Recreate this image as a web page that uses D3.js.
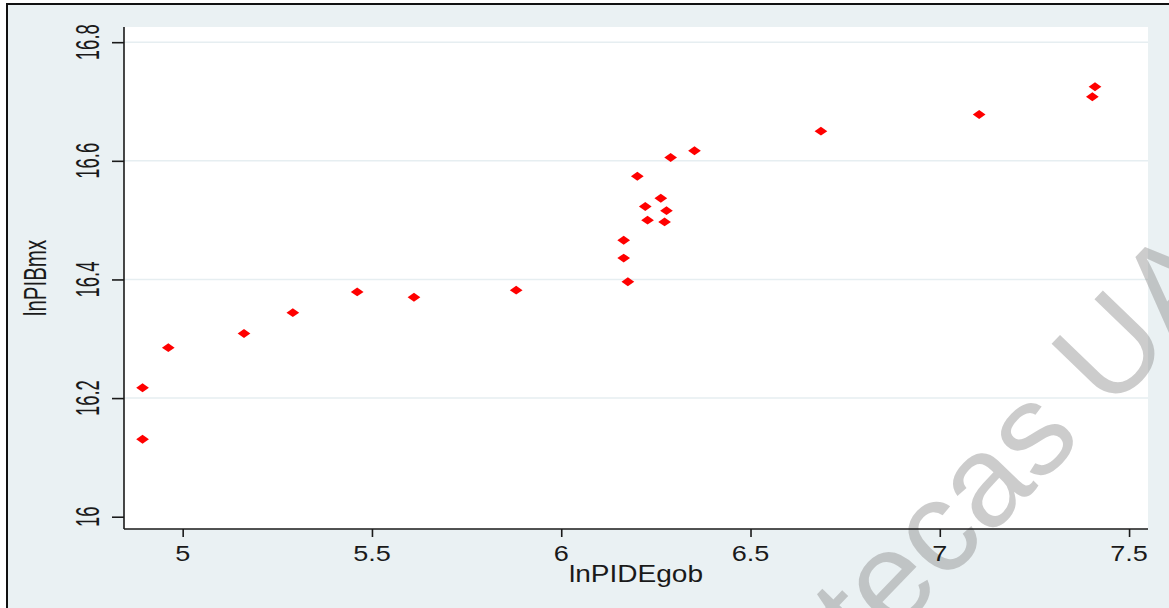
<!DOCTYPE html>
<html>
<head>
<meta charset="utf-8">
<script src="https://cdn.jsdelivr.net/npm/d3@7"></script>
<style>
  html, body { margin: 0; padding: 0; background: #ffffff; }
  svg { display: block; }
  text { font-family: "Liberation Sans", Arial, sans-serif; }
</style>
</head>
<body>
<svg id="chart" width="1169" height="608"></svg>
<script>
// ---- data ----
const lnPIDEgob = [4.894, 4.894, 4.962, 5.162, 5.291, 5.461, 5.611, 5.881,
                   6.165, 6.165, 6.176, 6.201, 6.222, 6.228, 6.263, 6.273, 6.278, 6.289, 6.352,
                   6.686, 7.104, 7.403, 7.410];
const lnPIBmx   = [16.2175, 16.1305, 16.285, 16.309, 16.344, 16.379, 16.370, 16.382,
                   16.466, 16.436, 16.396, 16.574, 16.523, 16.500, 16.537, 16.497, 16.516, 16.6056, 16.617,
                   16.650, 16.678, 16.708, 16.725];
const xTicks = [5, 5.5, 6, 6.5, 7, 7.5];
const xTickLabels = ["5", "5.5", "6", "6.5", "7", "7.5"];
const yTicks = [16, 16.2, 16.4, 16.6, 16.8];
const yTickLabels = ["16", "16.2", "16.4", "16.6", "16.8"];
const yGrid = [16.2, 16.4, 16.6, 16.8];
const xTitle = "lnPIDEgob";
const yTitle = "lnPIBmx";
const watermark = "Bibliotecas UAM";

// ---- layout ----
const W = 1169, H = 608;
const plot = { left: 124, right: 1148, top: 27, bottom: 529 };
const svg = d3.select("#chart");

// background + frame
svg.append("rect").attr("x", 0).attr("y", 0).attr("width", W).attr("height", H).attr("fill", "#ffffff");
svg.append("rect").attr("x", 7).attr("y", 4).attr("width", W + 20).attr("height", H + 20)
   .attr("fill", "#eaf1f3").attr("stroke", "#111").attr("stroke-width", 2);

// plot region
svg.append("rect").attr("x", plot.left).attr("y", plot.top)
   .attr("width", plot.right - plot.left).attr("height", plot.bottom - plot.top)
   .attr("fill", "#ffffff");

const x = d3.scaleLinear().domain([4.845, 7.550]).range([plot.left, plot.right]);
const y = d3.scaleLinear().domain([15.9793, 16.8256]).range([plot.bottom, plot.top]);

// gridlines
svg.append("g").selectAll("line").data(yGrid).join("line")
   .attr("x1", plot.left).attr("x2", plot.right)
   .attr("y1", d => y(d)).attr("y2", d => y(d))
   .attr("stroke", "#e6eef1").attr("stroke-width", 1.5);

// watermark
const wm = svg.append("text").attr("font-size", 130).attr("fill", "#8f8f8f")
   .attr("fill-opacity", 0.45).text(watermark);
const node = wm.node();
const ext = node.getExtentOfChar(10);
const cx = ext.x + ext.width / 2, cy = -0.26 * 130;
wm.attr("transform", `translate(1037,439) rotate(-46) translate(${-cx},${-cy})`);

// axes (lines + ticks via d3 axes)
const yAxis = d3.axisLeft(y).tickValues(yTicks).tickSize(12).tickFormat("");
const gy = svg.append("g").attr("transform", `translate(${plot.left},0)`).call(yAxis);
gy.select(".domain").attr("d", `M0,${plot.top}V${plot.bottom}`);
gy.selectAll("path,line").attr("stroke", "#1a1a1a").attr("stroke-width", 1.6);

const xAxis = d3.axisBottom(x).tickValues(xTicks).tickSize(8).tickFormat("");
const gx = svg.append("g").attr("transform", `translate(0,${plot.bottom})`).call(xAxis);
gx.select(".domain").attr("d", `M${plot.left},0H${plot.right}`);
gx.selectAll("path,line").attr("stroke", "#1a1a1a").attr("stroke-width", 1.6);

// tick labels (stretched like the reference)
svg.append("g").selectAll("text").data(xTicks).join("text")
   .attr("transform", d => `translate(${x(d)},561) scale(1.23,1)`)
   .attr("text-anchor", "middle").attr("font-size", 22).attr("fill", "#1a1a1a")
   .text((d, i) => xTickLabels[i]);

svg.append("g").selectAll("text").data(yTicks).join("text")
   .attr("transform", d => `translate(99,${y(d)}) scale(1.75,1) rotate(-90)`)
   .attr("text-anchor", "middle").attr("font-size", 18.5).attr("fill", "#1a1a1a")
   .text((d, i) => yTickLabels[i]);

// axis titles
svg.append("text").attr("transform", `translate(${(plot.left + plot.right) / 2},582) scale(1.22,1)`)
   .attr("text-anchor", "middle").attr("font-size", 23).attr("fill", "#1a1a1a").text(xTitle);
svg.append("text").attr("transform", `translate(45.5,${(plot.top + plot.bottom) / 2}) scale(1.52,1) rotate(-90)`)
   .attr("text-anchor", "middle").attr("font-size", 20.5).attr("fill", "#1a1a1a").text(yTitle);

// markers: red diamonds (wider than tall, like the reference)
const wideDiamond = {
  draw(ctx, size) {
    const w = Math.sqrt(size) * 0.85, h = w * 0.7;
    ctx.moveTo(0, -h); ctx.lineTo(w, 0); ctx.lineTo(0, h); ctx.lineTo(-w, 0); ctx.closePath();
  }
};
const pts = lnPIDEgob.map((v, i) => ({ x: v, y: lnPIBmx[i] }));
const diamond = d3.symbol().type(wideDiamond).size(56);
svg.append("g").selectAll("path").data(pts).join("path")
   .attr("d", diamond)
   .attr("transform", d => `translate(${x(d.x)},${y(d.y)})`)
   .attr("fill", "#ff0000");
</script>
</body>
</html>
